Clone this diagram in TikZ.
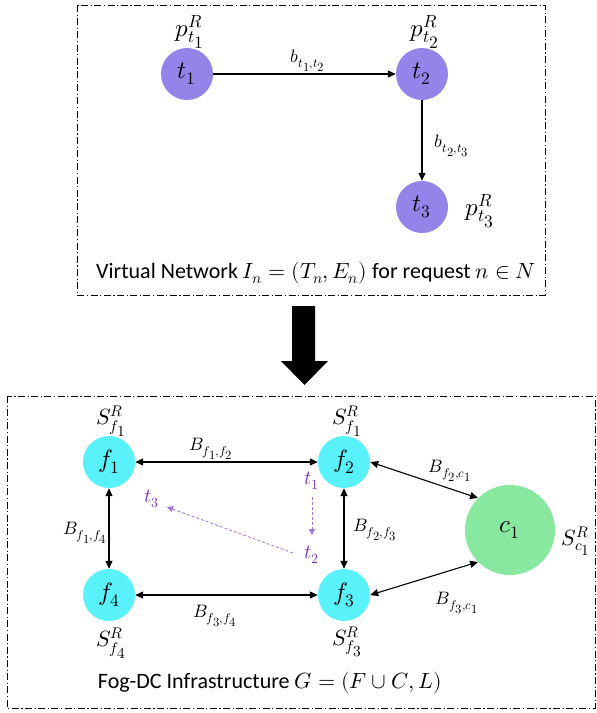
\documentclass[tikz,border=0pt]{standalone}
\usepackage{fontspec}
\usepackage{unicode-math}
\setmainfont{Carlito}
\setmathfont{Latin Modern Math}
\usetikzlibrary{shapes.geometric,arrows.meta}
\newcommand{\mysub}[1]{{\scriptstyle #1}}
\definecolor{vpurple}{RGB}{148,131,232}
\definecolor{fcyan}{RGB}{90,242,250}
\definecolor{cgreen}{RGB}{136,232,160}
\definecolor{tpurple}{RGB}{118,52,180}
\definecolor{dpurple}{RGB}{165,115,215}
\begin{document}
\begin{tikzpicture}[x=1pt,y=-1pt,
  box/.style={draw, line width=0.9pt, dash pattern=on 7pt off 2.5pt on 1.2pt off 2.5pt},
  vnode/.style={circle, fill=vpurple, minimum size=52pt, inner sep=0pt, font=\fontsize{25}{28}\selectfont},
  fnode/.style={circle, fill=fcyan, minimum size=52pt, inner sep=0pt, font=\fontsize{25}{28}\selectfont},
  cnode/.style={circle, fill=cgreen, minimum size=90pt, inner sep=0pt, font=\fontsize{25}{28}\selectfont},
  reslbl/.style={inner sep=0pt, font=\fontsize{22}{26}\selectfont},
  preslbl/.style={inner sep=0pt, font=\fontsize{25}{28}\selectfont},
  edgelbl/.style={inner sep=0pt, font=\fontsize{18}{22}\selectfont},
  caption/.style={inner sep=0pt, font=\fontsize{22}{26}\selectfont},
  maplbl/.style={inner sep=0pt, text=tpurple, font=\fontsize{20}{24}\selectfont},
  arr/.style={line width=1.1pt, -{Triangle[length=8pt,width=7pt]}},
  barr/.style={line width=1.1pt, {Triangle[length=8pt,width=7pt]}-{Triangle[length=8pt,width=7pt]}},
  maparr/.style={dpurple, line width=0.8pt, dash pattern=on 3pt off 2pt, -{Triangle[length=6pt,width=6pt]}}
]
\useasboundingbox (0,0) rectangle (597,713);

% ---------- top: virtual network ----------
\draw[box] (77,5) rectangle (545,295);
\node[vnode] (t1) at (187,74) {$t_1$};
\node[vnode] (t2) at (422,74) {$t_2$};
\node[vnode] (t3) at (422,207) {$t_3$};
\node[preslbl] (pt1) at (190,32) {$p^R_{t_{\mysub{1}}}$};
\node[preslbl] (pt2) at (425,32) {$p^R_{t_{\mysub{2}}}$};
\node[preslbl] (pt3) at (480,211) {$p^R_{t_{\mysub{3}}}$};
\draw[arr] (t1) -- (t2);
\draw[arr] (t2) -- (t3);
\node[edgelbl] (b12) at (308,61) {$b_{t_{\mysub{1}},t_{\mysub{2}}}$};
\node[edgelbl] (b23) at (452,146) {$b_{t_{\mysub{2}},t_{\mysub{3}}}$};
\node[caption] (vcap) at (316,273) {Virtual Network $I_n=(T_n,E_n)$ for request $n\in N$};

% ---------- big arrow ----------
\fill[black] (292,306) -- (315,306) -- (315,361) -- (328,361) -- (304.5,385) -- (281,361) -- (292,361) -- cycle;

% ---------- bottom: fog-DC infrastructure ----------
\draw[box] (7,396) rectangle (595,708);
\node[fnode] (f1) at (109,462) {$f_1$};
\node[fnode] (f2) at (344,462) {$f_2$};
\node[fnode] (f3) at (344,595) {$f_3$};
\node[fnode] (f4) at (109,595) {$f_4$};
\node[cnode] (c1) at (510,530) {$c_1$};

\node[reslbl] (sf1) at (111,421) {$S^R_{f_{\mysub{1}}}$};
\node[reslbl] (sf2) at (347,421) {$S^R_{f_{\mysub{1}}}$};
\node[reslbl] (sf4) at (111,643) {$S^R_{f_{\mysub{4}}}$};
\node[reslbl] (sf3) at (347,642) {$S^R_{f_{\mysub{3}}}$};
\node[reslbl] (sc1) at (576,541) {$S^R_{c_{\mysub{1}}}$};

\draw[barr] (f1) -- (f2);
\draw[barr] (f4) -- (f3);
\draw[barr] (f1) -- (f4);
\draw[barr] (f2) -- (f3);
\draw[barr] (f2.east) -- (c1.135);
\draw[barr] (f3.east) -- (c1.225);

\node[edgelbl] (B12) at (211,449) {$B_{f_{\mysub{1}},f_{\mysub{2}}}$};
\node[edgelbl] (B14) at (85,533) {$B_{f_{\mysub{1}},f_{\mysub{4}}}$};
\node[edgelbl] (B23) at (375,530) {$B_{f_{\mysub{2}},f_{\mysub{3}}}$};
\node[edgelbl] (B34) at (215,616) {$B_{f_{\mysub{3}},f_{\mysub{4}}}$};
\node[edgelbl] (B2c) at (450,471) {$B_{f_{\mysub{2}},c_{\mysub{1}}}$};
\node[edgelbl] (B3c) at (457,603) {$B_{f_{\mysub{3}},c_{\mysub{1}}}$};

\node[maplbl] (m1) at (312,481) {$t_1$};
\node[maplbl] (m2) at (312,555) {$t_2$};
\node[maplbl] (m3) at (152,499) {$t_3$};
\coordinate (m1s) at (312,497);
\coordinate (m2n) at (312,535);
\coordinate (m2w) at (293,553);
\coordinate (m3e) at (167,507);
\draw[maparr] (m1s) -- (m2n);
\draw[maparr] (m2w) -- (m3e);

\node[caption] (gcap) at (270,683) {Fog-DC Infrastructure $G=(F\cup C,L)$};
\end{tikzpicture}
\end{document}
